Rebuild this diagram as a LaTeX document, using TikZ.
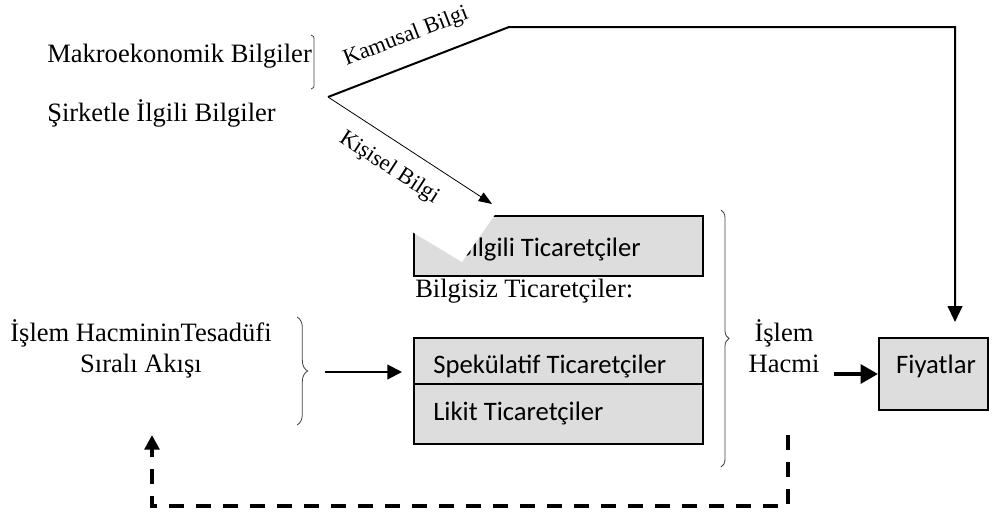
\documentclass[tikz,border=0pt]{standalone}
\usepackage{fontspec}
\setmainfont{Liberation Serif}
\newfontfamily\calfont{Carlito}
\usetikzlibrary{arrows.meta,decorations.pathreplacing}
\definecolor{boxgray}{RGB}{221,221,221}
\begin{document}
\begin{tikzpicture}[x=0.75pt,y=-0.75pt,
  serif/.style={font=\fontsize{19.9}{23.25}\selectfont, inner sep=0pt},
  lbl/.style={font=\fontsize{17}{20}\selectfont, inner sep=0pt},
  boxtxt/.style={font=\calfont\fontsize{20}{23}\selectfont, inner sep=0pt},
  box/.style={draw=black, line width=1.5pt, fill=boxgray, inner sep=0pt, anchor=north west},
  thinline/.style={line width=0.6pt, black},
  bracestyle/.style={line width=0.6pt, black!75},
  midarrow/.style={line width=1.5pt, -{Triangle[length=11pt,width=11pt]}},
  bigarrow/.style={line width=3pt, -{Triangle[length=13pt,width=14pt]}},
  dasharrow/.style={line width=3pt, dash pattern=on 11.25pt off 9pt, -{Triangle[length=11pt,width=11pt]}}
]
\useasboundingbox (0,0) rectangle (994,511);

% left texts
\node[serif, anchor=base west] (makro) at (47,62) {Makroekonomik Bilgiler};
\node[serif, anchor=base west] (sirket) at (47,121) {Şirketle İlgili Bilgiler};
\draw[bracestyle] (311,35) .. controls (314,36) .. (314,42) -- (314,83) .. controls (314,88) .. (311,89);

% boxes
\node[box, minimum width=216.75pt, minimum height=45pt] (bilgili) at (413,215) {};
\node[boxtxt, anchor=base west] (bilgilitxt) at (457,256) {Bilgili Ticaretçiler};
\node[serif, anchor=base west] (bilgisiz) at (415,297) {Bilgisiz Ticaretçiler:};
\node[box, minimum width=216.75pt, minimum height=79.5pt] (spek) at (413,337) {};
\draw[line width=1.5pt] (spek.west |- 0,384) -- (spek.east |- 0,384);
\node[boxtxt, anchor=base west] (spektxt) at (433,373) {Spekülatif Ticaretçiler};
\node[boxtxt, anchor=base west] (likit) at (433,420) {Likit Ticaretçiler};
\node[box, minimum width=82pt, minimum height=54pt] (fiyat) at (878,337) {};
\node[boxtxt, anchor=base] (fiyattxt) at (936,373) {Fiyatlar};

% white cut over the corner of the Bilgili box
\fill[white] (462,262) -- (496,213) -- (404,213) -- (404,227) -- cycle;

% source of information lines
\coordinate (src) at (328,97);
\coordinate (kink) at (509,27);
\coordinate (fiyatin) at (955,322);
\coordinate (kisend) at (492,204);
\draw[line width=1.5pt, -{Triangle[length=12pt,width=11pt]}] (src) -- (kink) -| (fiyatin);
\draw[thinline, -{Triangle[length=10pt,width=7.5pt]}] (src) -- (kisend);
\node[lbl, rotate=21] (kamusal) at (406,37) {Kamusal Bilgi};
\node[lbl, rotate=-33] (kisisel) at (389,168) {Kişisel Bilgi};

% left text and brace
\node[serif, align=center, anchor=base] (akis) at (141,372) {İşlem HacmininTesadüfi\\Sıralı Akışı};
\draw[bracestyle, decorate, decoration={brace, amplitude=8pt}] (297,317) -- (297,425);
\coordinate (lbtip) at (308,372);
\coordinate (spekin) at (402,372);
\draw[midarrow, shorten <=12.75pt] (lbtip) -- (spekin);

% right brace and volume
\draw[bracestyle, decorate, decoration={brace, amplitude=6pt}] (721,210) -- (721,467);
\node[serif, align=center, anchor=base] (islem) at (784,372) {İşlem\\Hacmi};
\draw[bigarrow, shorten <=10.5pt] (islem.east |- fiyat.west) -- (fiyat.west);

% dashed feedback
\coordinate (dstart) at (788,435);
\coordinate (dcorner) at (788,506);
\coordinate (akisin) at (152,435);
\draw[dasharrow] (dstart) -- (dcorner) -| (akisin);
\end{tikzpicture}
\end{document}
